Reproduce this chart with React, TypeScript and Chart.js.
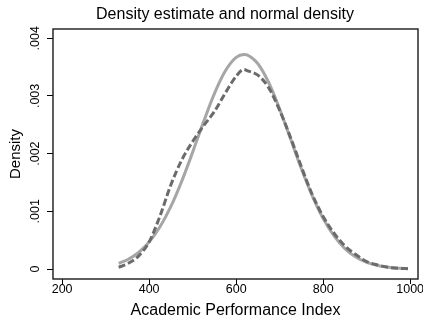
import React, { useEffect, useRef } from "react";
import { Chart, registerables } from "chart.js";

Chart.register(...registerables);

const chartTitle = "Density estimate and normal density";
const xAxisTitle = "Academic Performance Index";
const yAxisTitle = "Density";

const xTicks = [200, 400, 600, 800, 1000];
const yTicks = [0, 0.001, 0.002, 0.003, 0.004];
const yTickLabels = ["0", ".001", ".002", ".003", ".004"];

const apiValues = [330, 350, 375, 400, 425, 450, 475, 500, 525, 550, 575, 600, 618, 625, 650, 675, 700, 725, 750, 775, 800, 825, 850, 875, 900, 925, 950, 975, 995];

const kernelDensity = [0.00003, 0.00009, 0.00022, 0.00047, 0.00092, 0.00146, 0.00189, 0.00221, 0.00248, 0.00273, 0.00305, 0.00334, 0.00346, 0.00344, 0.00336, 0.00314, 0.00275, 0.00228, 0.00177, 0.00129, 0.00091, 0.00062, 0.0004, 0.00025, 0.00013, 0.00007, 0.00003, 0.000012, 0.000005];

const normalDensity = [0.000099, 0.000161, 0.000282, 0.000467, 0.000731, 0.001084, 0.001523, 0.002025, 0.00255, 0.00304, 0.003431, 0.003668, 0.00372, 0.003712, 0.003557, 0.003228, 0.002774, 0.002256, 0.001738, 0.001268, 0.000875, 0.000573, 0.000354, 0.000208, 0.000115, 0.000061, 0.00003, 0.000014, 0.000008];

const FONT = "'Liberation Sans', Arial, Helvetica, sans-serif";

const decorPlugin = {
  id: "decor",
  afterDraw(chart: any) {
    const { ctx, chartArea } = chart;
    const yScale = chart.scales.y;
    ctx.save();
    ctx.strokeStyle = "#1a1a1a";
    ctx.lineWidth = 1.4;
    ctx.strokeRect(chartArea.left, chartArea.top, chartArea.right - chartArea.left, chartArea.bottom - chartArea.top);
    ctx.fillStyle = "#000";
    ctx.font = `12.5px ${FONT}`;
    ctx.textAlign = "center";
    ctx.textBaseline = "middle";
    yTicks.forEach((v, i) => {
      const py = yScale.getPixelForValue(v);
      ctx.save();
      ctx.translate(36, py);
      ctx.rotate(-Math.PI / 2);
      ctx.fillText(yTickLabels[i], 0, 0);
      ctx.restore();
    });
    ctx.font = `16px ${FONT}`;
    ctx.textAlign = "center";
    ctx.textBaseline = "middle";
    ctx.fillText(chartTitle, 225, 15);
    ctx.restore();
  },
};

export default function App() {
  const ref = useRef<HTMLCanvasElement>(null);
  useEffect(() => {
    if (!ref.current) return;
    const chart = new Chart(ref.current, {
      type: "line",
      data: {
        datasets: [
          {
            label: "Kernel density",
            data: apiValues.map((x, i) => ({ x, y: kernelDensity[i] })),
            borderColor: "#6b6b6b",
            borderWidth: 3,
            borderDash: [7, 3],
            pointRadius: 0,
            fill: false,
            cubicInterpolationMode: "monotone",
          },
          {
            label: "Normal density",
            data: apiValues.map((x, i) => ({ x, y: normalDensity[i] })),
            borderColor: "#a6a6a6",
            borderWidth: 3,
            pointRadius: 0,
            fill: false,
            cubicInterpolationMode: "monotone",
          },
        ],
      },
      options: {
        animation: false,
        responsive: false,
        devicePixelRatio: 1,
        layout: { padding: { top: 29, right: 5, left: 0, bottom: 0 } },
        plugins: { legend: { display: false }, title: { display: false }, tooltip: { enabled: false } },
        scales: {
          x: {
            type: "linear",
            min: 179,
            max: 1018,
            afterBuildTicks: (s: any) => {
              s.ticks = xTicks.map((v) => ({ value: v }));
            },
            afterFit: (s: any) => {
              s.height = 42;
              s.paddingLeft = 0;
              s.paddingRight = 0;
            },
            ticks: {
              color: "#000",
              font: { family: FONT, size: 12.5 },
              padding: -2,
              maxRotation: 0,
              callback: (v: any) => String(v),
            },
            grid: { display: true, drawOnChartArea: false, drawTicks: true, tickLength: 5, color: "#000" },
            border: { display: false },
            title: {
              display: true,
              text: xAxisTitle,
              color: "#000",
              font: { family: FONT, size: 16 },
              padding: { top: 0, bottom: 1 },
            },
          },
          y: {
            type: "linear",
            min: -0.000173,
            max: 0.00416,
            afterBuildTicks: (s: any) => {
              s.ticks = yTicks.map((v) => ({ value: v }));
            },
            afterFit: (s: any) => {
              s.width = 53;
              s.paddingTop = 0;
              s.paddingBottom = 0;
            },
            ticks: { display: false },
            grid: { display: true, drawOnChartArea: false, drawTicks: true, tickLength: 6, color: "#000" },
            border: { display: false },
            title: {
              display: true,
              text: yAxisTitle,
              color: "#000",
              font: { family: FONT, size: 15 },
              padding: { top: 7, bottom: 0 },
            },
          },
        },
      },
      plugins: [decorPlugin],
    } as any);
    return () => chart.destroy();
  }, []);
  return (
    <div style={{ position: "absolute", left: 0, top: 0, width: 423, height: 321, background: "#fff" }}>
      <canvas ref={ref} width={423} height={321} />
    </div>
  );
}
